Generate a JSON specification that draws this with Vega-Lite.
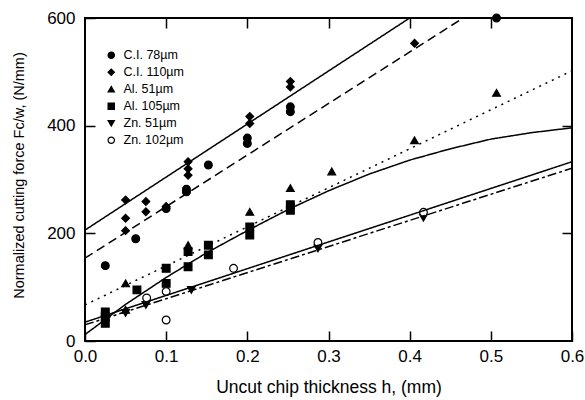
{
  "$schema": "https://vega.github.io/schema/vega-lite/v6.json",
  "autosize": "none",
  "width": 487,
  "height": 323,
  "padding": {"left": 85, "top": 18, "right": 13, "bottom": 59},
  "background": "white",
  "config": {
    "view": {"stroke": "black", "strokeWidth": 2},
    "font": "Liberation Sans",
    "axis": {"grid": false, "domain": false, "tickColor": "black", "labelColor": "black", "titleColor": "black", "labelFont": "Liberation Sans", "titleFont": "Liberation Sans", "labelFontSize": 17, "titleFontSize": 17, "titleFontWeight": "normal", "tickWidth": 1.5, "tickSize": -10}
  },
  "datasets": {
    "pts": [
      {"series": "C.I. 78µm", "h": 0.025, "F": 140},
      {"series": "C.I. 78µm", "h": 0.0625, "F": 190},
      {"series": "C.I. 78µm", "h": 0.1, "F": 246},
      {"series": "C.I. 78µm", "h": 0.125, "F": 277},
      {"series": "C.I. 78µm", "h": 0.125, "F": 282},
      {"series": "C.I. 78µm", "h": 0.152, "F": 327},
      {"series": "C.I. 78µm", "h": 0.2, "F": 377},
      {"series": "C.I. 78µm", "h": 0.2, "F": 367},
      {"series": "C.I. 78µm", "h": 0.253, "F": 435},
      {"series": "C.I. 78µm", "h": 0.253, "F": 426},
      {"series": "C.I. 78µm", "h": 0.507, "F": 600},
      {"series": "C.I. 110µm", "h": 0.05, "F": 262},
      {"series": "C.I. 110µm", "h": 0.05, "F": 228},
      {"series": "C.I. 110µm", "h": 0.05, "F": 205},
      {"series": "C.I. 110µm", "h": 0.075, "F": 259},
      {"series": "C.I. 110µm", "h": 0.075, "F": 240},
      {"series": "C.I. 110µm", "h": 0.1, "F": 250},
      {"series": "C.I. 110µm", "h": 0.127, "F": 333},
      {"series": "C.I. 110µm", "h": 0.127, "F": 320},
      {"series": "C.I. 110µm", "h": 0.127, "F": 308},
      {"series": "C.I. 110µm", "h": 0.203, "F": 417},
      {"series": "C.I. 110µm", "h": 0.203, "F": 404},
      {"series": "C.I. 110µm", "h": 0.253, "F": 482},
      {"series": "C.I. 110µm", "h": 0.253, "F": 472},
      {"series": "C.I. 110µm", "h": 0.406, "F": 553},
      {"series": "Al. 51µm", "h": 0.05, "F": 107},
      {"series": "Al. 51µm", "h": 0.05, "F": 58},
      {"series": "Al. 51µm", "h": 0.127, "F": 178},
      {"series": "Al. 51µm", "h": 0.203, "F": 240},
      {"series": "Al. 51µm", "h": 0.253, "F": 284},
      {"series": "Al. 51µm", "h": 0.304, "F": 315},
      {"series": "Al. 51µm", "h": 0.406, "F": 373},
      {"series": "Al. 51µm", "h": 0.507, "F": 461},
      {"series": "Al. 105µm", "h": 0.025, "F": 54},
      {"series": "Al. 105µm", "h": 0.025, "F": 45},
      {"series": "Al. 105µm", "h": 0.025, "F": 33},
      {"series": "Al. 105µm", "h": 0.064, "F": 95},
      {"series": "Al. 105µm", "h": 0.1, "F": 135},
      {"series": "Al. 105µm", "h": 0.1, "F": 107},
      {"series": "Al. 105µm", "h": 0.127, "F": 166},
      {"series": "Al. 105µm", "h": 0.127, "F": 138},
      {"series": "Al. 105µm", "h": 0.152, "F": 178},
      {"series": "Al. 105µm", "h": 0.152, "F": 160},
      {"series": "Al. 105µm", "h": 0.203, "F": 212},
      {"series": "Al. 105µm", "h": 0.203, "F": 197},
      {"series": "Al. 105µm", "h": 0.253, "F": 253},
      {"series": "Al. 105µm", "h": 0.253, "F": 243},
      {"series": "Zn. 51µm", "h": 0.025, "F": 40},
      {"series": "Zn. 51µm", "h": 0.05, "F": 52},
      {"series": "Zn. 51µm", "h": 0.075, "F": 67},
      {"series": "Zn. 51µm", "h": 0.131, "F": 95},
      {"series": "Zn. 51µm", "h": 0.287, "F": 172},
      {"series": "Zn. 51µm", "h": 0.417, "F": 229},
      {"series": "Zn. 102µm", "h": 0.076, "F": 80},
      {"series": "Zn. 102µm", "h": 0.1, "F": 92},
      {"series": "Zn. 102µm", "h": 0.1, "F": 39},
      {"series": "Zn. 102µm", "h": 0.183, "F": 135},
      {"series": "Zn. 102µm", "h": 0.287, "F": 183},
      {"series": "Zn. 102µm", "h": 0.417, "F": 239}
    ],
    "fits": [
      {"fit": "ci78", "h": 0, "F": 206},
      {"fit": "ci78", "h": 0.4, "F": 600},
      {"fit": "ci110", "h": 0, "F": 154},
      {"fit": "ci110", "h": 0.466, "F": 600},
      {"fit": "al51", "h": 0, "F": 67},
      {"fit": "al51", "h": 0.6, "F": 502},
      {"fit": "al105", "h": 0, "F": 12},
      {"fit": "al105", "h": 0.05, "F": 68},
      {"fit": "al105", "h": 0.1, "F": 118},
      {"fit": "al105", "h": 0.15, "F": 164},
      {"fit": "al105", "h": 0.2, "F": 205},
      {"fit": "al105", "h": 0.25, "F": 244},
      {"fit": "al105", "h": 0.3, "F": 279},
      {"fit": "al105", "h": 0.35, "F": 310},
      {"fit": "al105", "h": 0.4, "F": 336},
      {"fit": "al105", "h": 0.45, "F": 357},
      {"fit": "al105", "h": 0.5, "F": 375},
      {"fit": "al105", "h": 0.55, "F": 387},
      {"fit": "al105", "h": 0.6, "F": 396},
      {"fit": "zn102", "h": 0, "F": 35},
      {"fit": "zn102", "h": 0.6, "F": 333},
      {"fit": "zn51", "h": 0, "F": 30},
      {"fit": "zn51", "h": 0.6, "F": 321}
    ]
  },
  "layer": [
    {
      "data": {"name": "pts"},
      "mark": {"type": "point", "filled": false, "strokeWidth": 1.2, "opacity": 1, "size": 60},
      "encoding": {
        "x": {"field": "h", "type": "quantitative",
          "scale": {"domain": [0, 0.6], "nice": false},
          "axis": {"orient": "bottom", "title": "Uncut chip thickness h, (mm)", "values": [0, 0.1, 0.2, 0.3, 0.4, 0.5, 0.6], "format": ".1f", "labelPadding": 17, "titleY": 37, "titleFontSize": 17.5, "labelFlush": false, "labelOverlap": false}},
        "y": {"field": "F", "type": "quantitative",
          "scale": {"domain": [0, 600], "nice": false},
          "axis": {"orient": "left", "title": "Normalized cutting force Fc/w, (N/mm)", "values": [0, 200, 400, 600], "labelPadding": 20, "titleX": -59, "titleY": 157, "titleFontSize": 14.5, "labelFlush": false, "labelOverlap": false}},
        "shape": {"field": "series", "type": "nominal",
          "scale": {"domain": ["C.I. 78µm", "C.I. 110µm", "Al. 51µm", "Al. 105µm", "Zn. 51µm", "Zn. 102µm"],
                    "range": ["circle", "diamond", "triangle-up", "square", "triangle-down", "circle"]},
          "legend": {"title": null, "orient": "none", "legendX": 20, "legendY": 31, "labelFontSize": 12.5, "labelFont": "Liberation Sans", "symbolSize": 40, "rowPadding": 4, "labelOffset": 6, "symbolStrokeWidth": 1.2}},
        "fill": {"field": "series", "type": "nominal",
          "scale": {"domain": ["C.I. 78µm", "C.I. 110µm", "Al. 51µm", "Al. 105µm", "Zn. 51µm", "Zn. 102µm"],
                    "range": ["black", "black", "black", "black", "black", "white"]}},
        "stroke": {"field": "series", "type": "nominal",
          "scale": {"domain": ["C.I. 78µm", "C.I. 110µm", "Al. 51µm", "Al. 105µm", "Zn. 51µm", "Zn. 102µm"],
                    "range": ["black", "black", "black", "black", "black", "black"]}}
      }
    },
    {
      "data": {"name": "fits"},
      "mark": {"type": "line", "color": "black", "strokeWidth": 1.5, "clip": true},
      "encoding": {
        "x": {"field": "h", "type": "quantitative", "axis": null},
        "y": {"field": "F", "type": "quantitative", "axis": null},
        "detail": {"field": "fit"},
        "strokeDash": {"field": "fit", "type": "nominal", "legend": null,
          "scale": {"domain": ["ci78", "ci110", "al51", "al105", "zn102", "zn51"],
                    "range": [[1, 0], [9, 5], [2, 5], [1, 0], [1, 0], [9, 3, 3, 3]]}}
      }
    },
    {
      "data": {"name": "pts"},
      "mark": {"type": "rule", "opacity": 0},
      "encoding": {
        "x": {"field": "h", "type": "quantitative", "axis": {"orient": "top", "labels": false, "title": null, "values": [0.1, 0.2, 0.3, 0.4, 0.5]}},
        "y": {"field": "F", "type": "quantitative", "axis": {"orient": "right", "labels": false, "title": null, "values": [200, 400]}}
      }
    }
  ]
}
